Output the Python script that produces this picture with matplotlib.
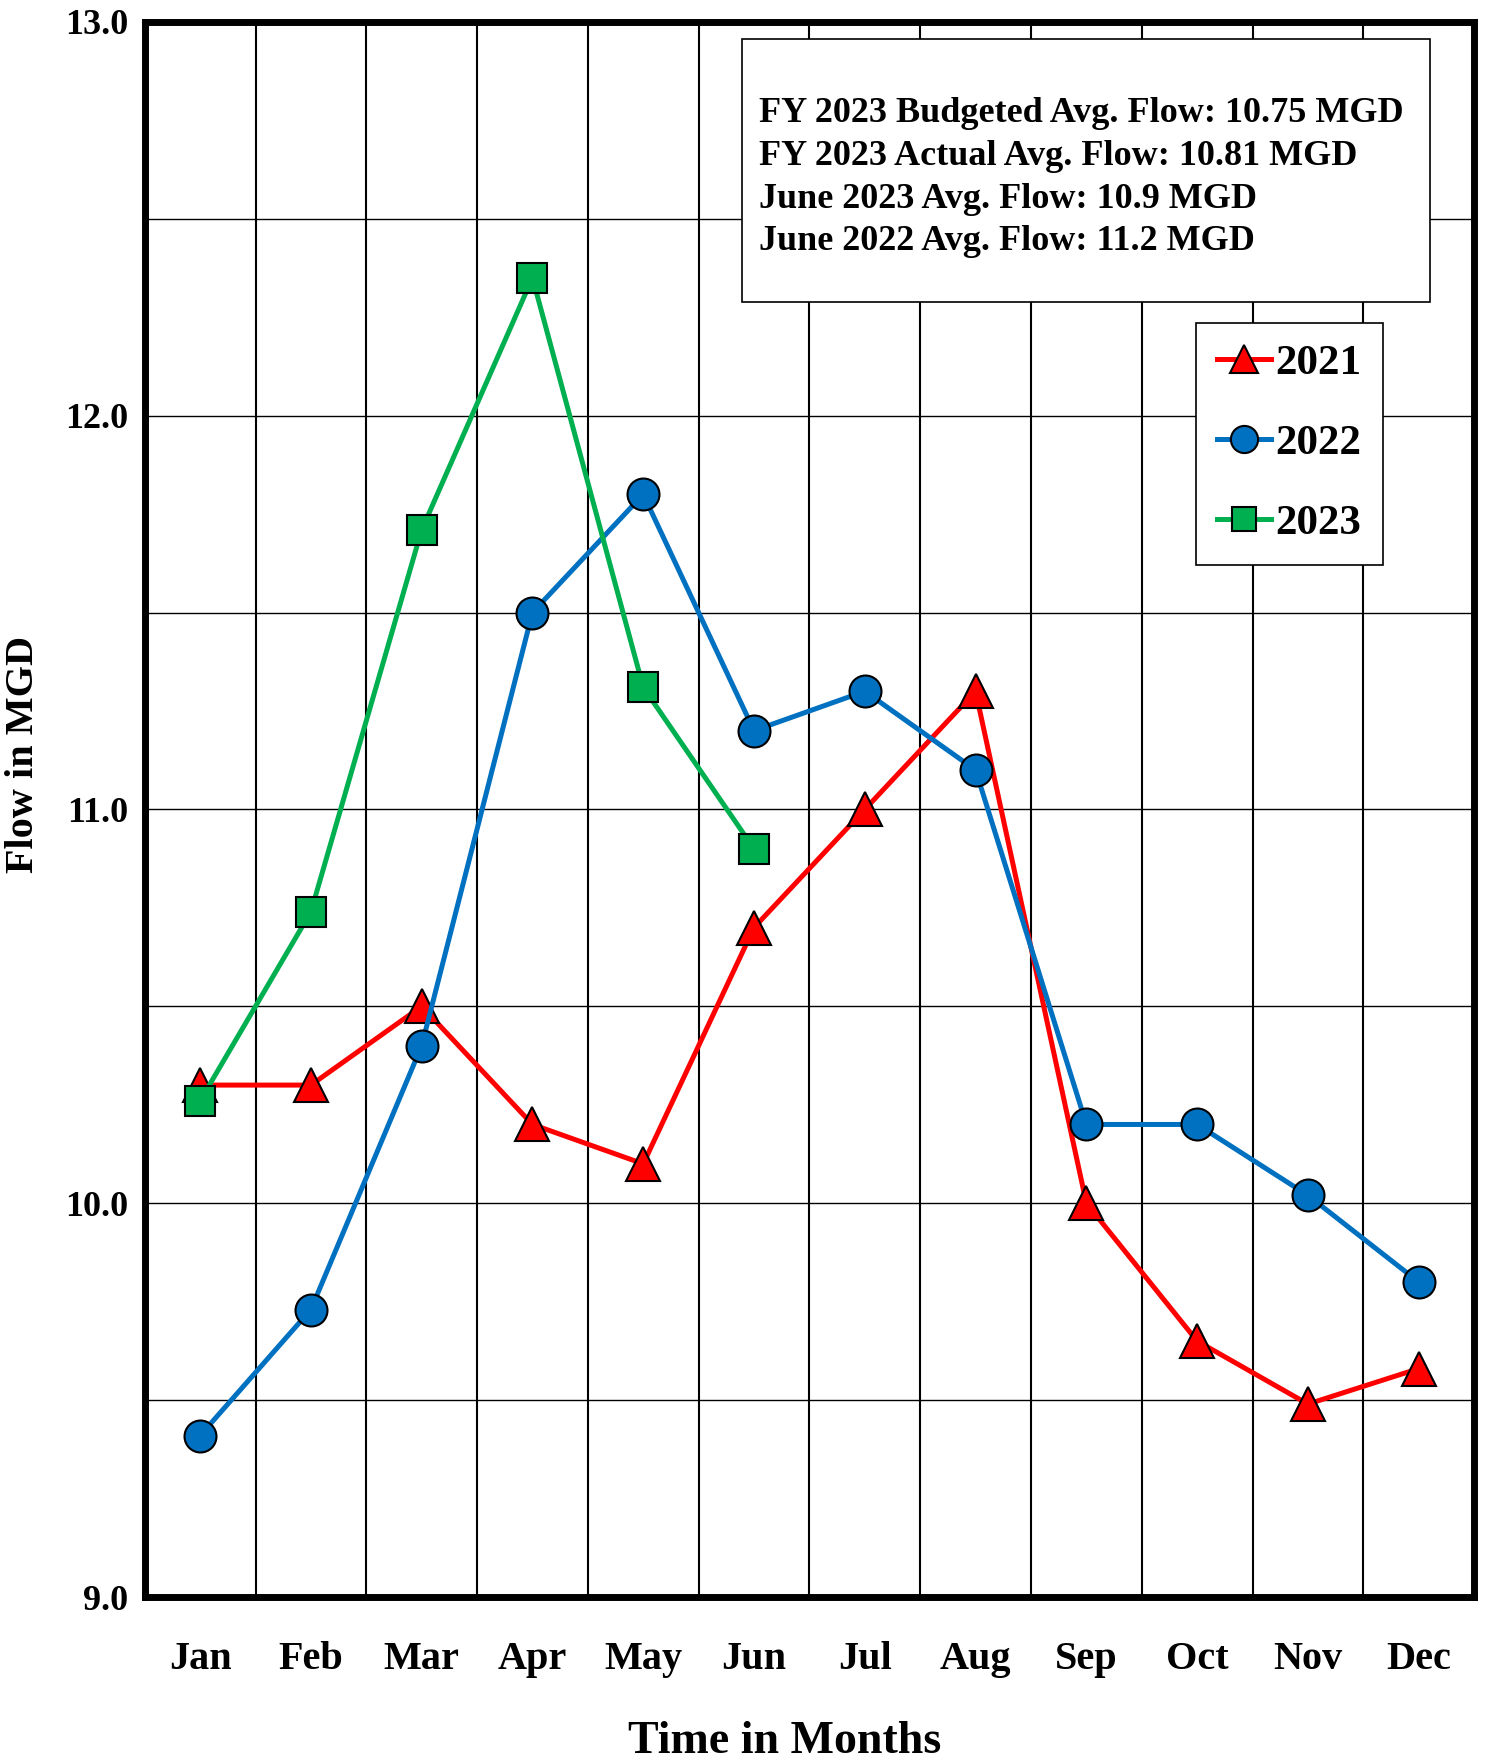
import matplotlib
matplotlib.use("Agg")
import matplotlib.pyplot as plt
from matplotlib.ticker import MultipleLocator, FixedLocator
from matplotlib.patches import Rectangle

months = ["Jan", "Feb", "Mar", "Apr", "May", "Jun", "Jul", "Aug", "Sep", "Oct", "Nov", "Dec"]
flow_2021 = [10.3, 10.3, 10.5, 10.2, 10.1, 10.7, 11.0, 11.3, 10.0, 9.65, 9.49, 9.58]
flow_2022 = [9.41, 9.73, 10.4, 11.5, 11.8, 11.2, 11.3, 11.1, 10.2, 10.2, 10.02, 9.8]
flow_2023 = [10.26, 10.74, 11.71, 12.35, 11.31, 10.9]
info_lines = [
    "FY 2023 Budgeted Avg. Flow: 10.75 MGD",
    "FY 2023 Actual Avg. Flow: 10.81 MGD",
    "June 2023 Avg. Flow: 10.9 MGD",
    "June 2022 Avg. Flow: 11.2 MGD",
]
y_ticks = [9.0, 10.0, 11.0, 12.0, 13.0]

FONT = ["Liberation Serif", "DejaVu Serif"]
plt.rcParams["font.family"] = FONT
plt.rcParams["font.weight"] = "bold"

fig = plt.figure(figsize=(14.92, 17.60), dpi=100)
ax = fig.add_axes([0.097, 0.0926, 0.891, 0.895])

x = list(range(len(months)))
ax.plot(x, flow_2021, color="#FF0000", lw=3.6, marker="^", ms=24,
        mfc="#FF0000", mec="black", mew=1.5, label="2021", zorder=3)
ax.plot(x, flow_2022, color="#0070C0", lw=3.6, marker="o", ms=23,
        mfc="#0070C0", mec="black", mew=1.5, label="2022", zorder=4)
ax.plot(x[:len(flow_2023)], flow_2023, color="#00B050", lw=3.6, marker="s", ms=21,
        mfc="#00B050", mec="black", mew=1.5, label="2023", zorder=5)

ax.set_xlim(-0.5, len(months) - 0.5)
ax.set_ylim(9.0, 13.0)
ax.set_xticks(x)
ax.set_xticklabels(months, fontsize=29, fontweight="bold")
ax.xaxis.set_minor_locator(FixedLocator([i + 0.5 for i in range(len(months) - 1)]))
ax.set_yticks(y_ticks)
ax.set_yticklabels([f"{v:.1f}" for v in y_ticks], fontsize=26, fontweight="bold")
ax.yaxis.set_minor_locator(MultipleLocator(0.5))
ax.tick_params(axis="both", which="both", length=0)
ax.tick_params(axis="x", pad=32)
ax.tick_params(axis="y", pad=12)
ax.grid(False)
ax.grid(which="minor", axis="x", color="black", lw=1.5)
ax.grid(which="minor", axis="y", color="black", lw=1.0)
ax.grid(which="major", axis="y", color="black", lw=1.0)
for s in ax.spines.values():
    s.set_linewidth(5)
ax.set_axisbelow(True)

ax.set_xlabel("Time in Months", fontsize=33, fontweight="bold")
ax.set_ylabel("Flow in MGD", fontsize=29, fontweight="bold")
ax.yaxis.set_label_coords(-0.077, 0.535)
ax.xaxis.set_label_coords(0.481, -0.092)
ax.xaxis.label.set_va("center")

box = Rectangle((0.449, 0.822), 0.518, 0.167, transform=ax.transAxes,
                facecolor="white", edgecolor="black", lw=1.2, zorder=9)
ax.add_patch(box)
line_y = [0.9416, 0.9145, 0.8875, 0.8604]
for yy, line in zip(line_y, info_lines):
    ax.text(0.462, yy, line, transform=ax.transAxes, fontsize=26,
            fontweight="bold", va="center", ha="left", zorder=10)

leg = ax.legend(loc="upper left", bbox_to_anchor=(0.7907, 0.809),
                fontsize=31, handlelength=1.25, handletextpad=0.1,
                labelspacing=0.95, borderpad=0.5, borderaxespad=0,
                fancybox=False, framealpha=1, edgecolor="black",
                markerscale=0.85)
leg.get_frame().set_linewidth(1.2)
leg.set_zorder(11)
for t in leg.get_texts():
    t.set_fontweight("bold")

fig.savefig("out.png", dpi=100)
